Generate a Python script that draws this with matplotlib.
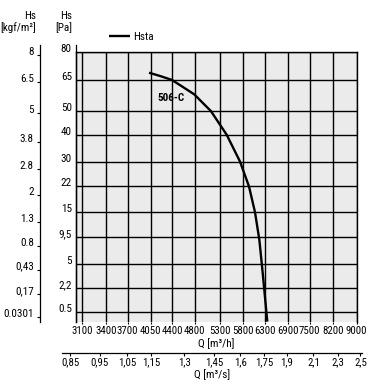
import numpy as np
import matplotlib
matplotlib.use('Agg')
import matplotlib.pyplot as plt
from matplotlib import font_manager
from matplotlib.ticker import NullLocator

# pick a narrow sans if one is installed, otherwise plain Liberation Sans a bit smaller
narrow = None
for name in ['Roboto Condensed', 'Liberation Sans Narrow', 'Arial Narrow', 'Nimbus Sans Narrow']:
    try:
        font_manager.findfont(name, fallback_to_default=False)
        narrow = name
        break
    except ValueError:
        pass
if narrow:
    plt.rcParams['font.family'] = [narrow, 'DejaVu Sans']
    FS, TFS = 8.0, 7.8
else:
    plt.rcParams['font.family'] = ['Liberation Sans', 'DejaVu Sans']
    FS, TFS = 7.0, 6.3
plt.rcParams['font.size'] = FS

# axis ticks / labels
q_ticks = [3100, 3400, 3700, 4050, 4400, 4800, 5300, 5800, 6300, 6900, 7500, 8200, 9000]
q_labels = [str(v) for v in q_ticks]
qs_ticks = [0.85, 0.95, 1.05, 1.15, 1.3, 1.45, 1.6, 1.75, 1.9, 2.1, 2.3, 2.5]
qs_labels = ['0,85', '0,95', '1,05', '1,15', '1,3', '1,45', '1,6', '1,75', '1,9', '2,1', '2,3', '2,5']
pa_ticks = [80, 65, 50, 40, 30, 22, 15, 9.5, 5, 2.2, 0.5]
pa_labels = ['80', '65', '50', '40', '30', '22', '15', '9,5', '5', '2,2', '0.5']
kgf_ticks = [8, 6.5, 5, 3.8, 2.8, 2, 1.3, 0.8, 0.43, 0.17, 0.0301]
kgf_labels = ['8', '6.5', '5', '3.8', '2.8', '2', '1.3', '0.8', '0,43', '0,17', '0.0301']

# Hsta curve for 506-C (Q in m3/h, Hs in Pa)
curve_q = [4021, 4196, 4391, 4587, 4793, 5114, 5435, 5723, 5926, 6066, 6169, 6250, 6362]
curve_pa = [68.7, 67.0, 65, 61.4, 57.8, 50, 40, 30, 22, 15, 9.0, 3.8, 0.17]

KGF = 9.81


def fwd(v):
    return np.sqrt(np.maximum(v, 0))


def inv(v):
    return np.square(v)


fig = plt.figure(figsize=(3.7, 3.92), dpi=100)
ax = fig.add_axes([76 / 370, 70.3 / 392, 280.7 / 370, 269.7 / 392])
ax.set_facecolor('#ebebeb')

ax.set_xscale('log')
ax.set_yscale('function', functions=(fwd, inv))
ax.set_xlim(3029, 9000)
ax.set_ylim(0.167, 80)

ax.plot(curve_q, curve_pa, color='black', lw=1.7, label='Hsta',
        solid_capstyle='butt', solid_joinstyle='round')
ax.text(4147, 56, '506-C', fontsize=FS, fontweight='bold', ha='left', va='center')

ax.set_xticks(q_ticks, labels=q_labels)
ax.xaxis.set_minor_locator(NullLocator())
ax.set_yticks(pa_ticks, labels=pa_labels)
ax.yaxis.set_minor_locator(NullLocator())
ax.grid(True, color='black', lw=1.0)
ax.set_axisbelow(True)
ax.tick_params(axis='x', length=1.5, width=0.8, pad=1.5, labelsize=TFS)
ax.tick_params(axis='y', length=0, pad=3, labelsize=FS)
for t in ax.get_yticklabels():
    t.set_va('baseline')
ax.spines['bottom'].set_visible(False)
for s in ['left', 'top', 'right']:
    ax.spines[s].set_linewidth(1.0)
ax.set_xlabel('Q [m³/h]', labelpad=1.5)
ax.plot([0, 0], [0, 1.026], transform=ax.transAxes, color='black', lw=0.9, clip_on=False)

# kgf/m2 axis
ax2 = ax.twinx()
ax2.set_yscale('function', functions=(fwd, inv))
ax2.set_ylim(ax.get_ylim())
ax2.yaxis.set_ticks_position('left')
ax2.spines['left'].set_position(('axes', -0.128))
for s in ['right', 'top', 'bottom', 'left']:
    ax2.spines[s].set_visible(False)
ax2.set_yticks(np.array(kgf_ticks) * KGF, labels=kgf_labels)
ax2.yaxis.set_minor_locator(NullLocator())
ax2.tick_params(axis='y', length=2.5, width=0.8, pad=2, labelsize=FS)
for t in ax2.get_yticklabels():
    t.set_va('baseline')
ax2.plot([-0.128, -0.128], [0, 1.026], transform=ax.transAxes, color='black', lw=0.9, clip_on=False)

# m3/s axis
ax3 = fig.add_axes([62 / 370, 39.3 / 392, 300 / 370, 0.001])
ax3.patch.set_visible(False)
for s in ['left', 'right', 'top']:
    ax3.spines[s].set_visible(False)
ax3.spines['bottom'].set_linewidth(0.9)
ax3.set_xscale('log')
ax3.set_xlim(0.825, 2.515)
ax3.set_yticks([])
ax3.set_xticks(qs_ticks, labels=qs_labels)
ax3.xaxis.set_minor_locator(NullLocator())
ax3.tick_params(axis='x', length=2, width=0.8, pad=1.5, labelsize=TFS)
ax3.set_xlabel('Q [m³/s]', labelpad=1.5)

# headers
fig.text(36 / 370, 1 - 11 / 392, 'Hs\n[kgf/m²]', ha='right', va='top',
         multialignment='right', linespacing=1.1)
fig.text(72 / 370, 1 - 11 / 392, 'Hs\n[Pa]', ha='right', va='top',
         multialignment='right', linespacing=1.1)

fig.legend(loc='center left', bbox_to_anchor=(109 / 370, 1 - 37 / 392), frameon=False,
           handlelength=1.9, handletextpad=0.3, borderpad=0, borderaxespad=0)

fig.savefig('out.png', dpi=100)
